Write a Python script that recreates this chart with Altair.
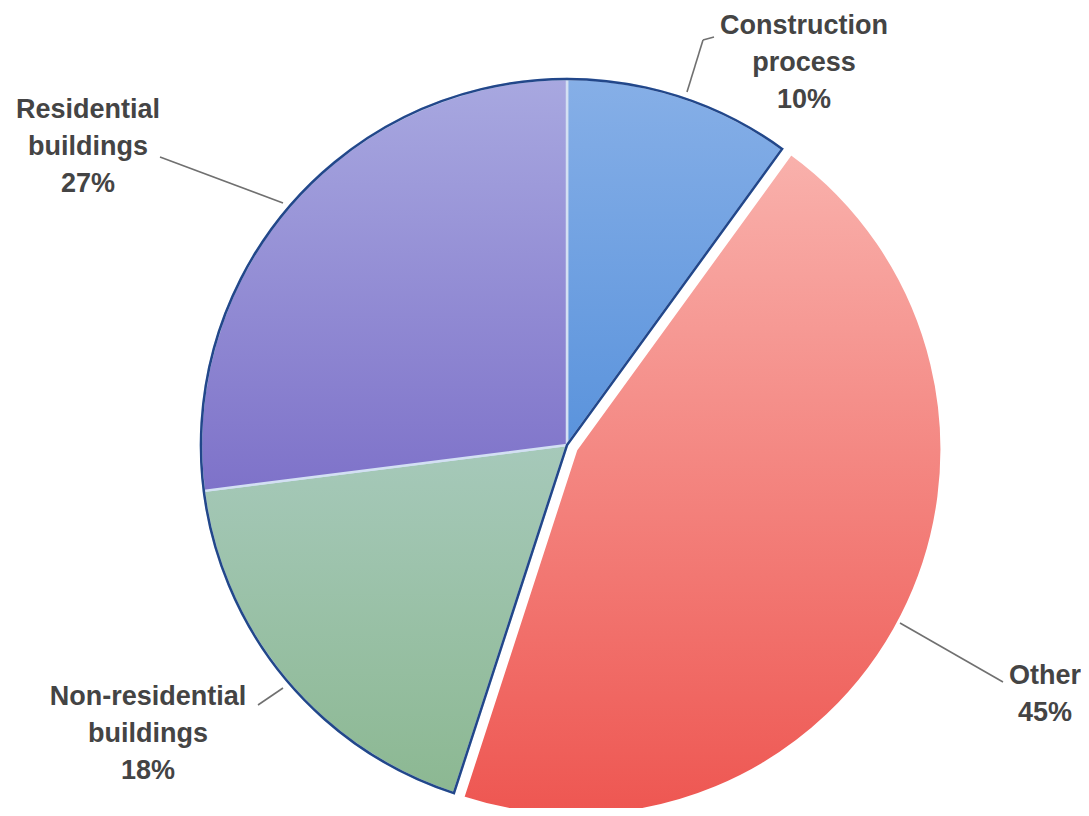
import math
import altair as alt
import pandas as pd

# ---- data ----
categories = ["Construction process", "Other", "Non-residential buildings", "Residential buildings"]
shares = [10, 45, 18, 27]
label_texts = ["Construction\nprocess\n10%", "Other\n45%", "Non-residential\nbuildings\n18%", "Residential\nbuildings\n27%"]

# ---- styles / layout ----
W, H = 1073, 800
CX, CY = 559, 437
R = 366
EXPLODE = 10
top_colors = ["#86afe7", "#f9b1ac", "#a6c9ba", "#a8a8e0"]
bottom_colors = ["#5a93dc", "#ee5651", "#8cb892", "#7e72c9"]
slice_strokes = ["#d3e0f3", "#ffffff", "#d3e0f3", "#d3e0f3"]
slice_stroke_w = [2.5, 3, 2.5, 2.5]
OUTLINE = "#22478a"
TEXT_COLOR = "#444444"

label_pos = {  # position of each label's first line (px)
    "Construction process": (796, 18),
    "Other": (1037, 668),
    "Non-residential buildings": (140, 689),
    "Residential buildings": (80, 102),
}
leaders = [  # polyline segments (px)
    (679, 84, 695, 32), (695, 32, 706, 29),
    (152, 149, 275, 195),
    (250, 697, 275, 680),
    (892, 615, 995, 674),
]

df = pd.DataFrame({"category": categories, "share": shares, "order": list(range(len(categories))),
                   "label": label_texts})

theta_scale = alt.Scale(domain=[0, sum(shares)], range=[0, 2 * math.pi])

base = alt.Chart(df).transform_stack(
    stack="share", as_=["start", "end"], groupby=[], sort=[alt.SortField("order", order="ascending")]
)

layers = []
total = sum(shares)
cum = 0
starts = []
for i, c in enumerate(categories):
    starts.append(cum)
    cum += shares[i]

for i, c in enumerate(categories):
    grad = alt.Gradient(
        gradient="linear",
        stops=[alt.GradientStop(color=top_colors[i], offset=0),
               alt.GradientStop(color=bottom_colors[i], offset=1)],
        x1=0, y1=0, x2=0, y2=1,
    )
    cx, cy = CX, CY
    if c == "Other":
        mid = (starts[i] + shares[i] / 2) / total * 2 * math.pi
        cx = CX + EXPLODE * math.sin(mid)
        cy = CY - EXPLODE * math.cos(mid)
    layers.append(
        base.transform_filter(alt.datum.category == c).mark_arc(
            fill=grad, stroke=slice_strokes[i], strokeWidth=slice_stroke_w[i], radius=R
        ).encode(
            theta=alt.Theta("start:Q", scale=theta_scale),
            theta2="end:Q",
            x=alt.value(cx), y=alt.value(cy),
        )
    )

# navy outline around the non-exploded part of the pie
i_nr = categories.index("Non-residential buildings")
i_cp = categories.index("Construction process")
t0 = starts[i_nr] / total * 2 * math.pi
t1 = 2 * math.pi + (starts[i_cp] + shares[i_cp]) / total * 2 * math.pi
outline = alt.Chart(pd.DataFrame({"k": [0]})).mark_arc(
    fill="#ffffff", fillOpacity=0, stroke=OUTLINE, strokeWidth=2.5, radius=R,
    theta=t0, theta2=t1,
).encode(x=alt.value(CX), y=alt.value(CY))
layers.append(outline)

# leader lines
lead_df = pd.DataFrame(leaders, columns=["x", "y", "x2", "y2"])
lead = alt.Chart(lead_df).mark_rule(color="#707070", strokeWidth=1.6).encode(
    x=alt.X("x:Q", scale=None), y=alt.Y("y:Q", scale=None),
    x2="x2:Q", y2="y2:Q",
)
layers.append(lead)

# labels
lab_df = df.copy()
lab_df["lx"] = [label_pos[c][0] for c in categories]
lab_df["ly"] = [label_pos[c][1] for c in categories]
labels = alt.Chart(lab_df).mark_text(
    font="Liberation Sans", fontWeight="bold", fontSize=27, color=TEXT_COLOR,
    align="center", baseline="middle", lineBreak="\n", lineHeight=37,
).encode(
    x=alt.X("lx:Q", scale=None), y=alt.Y("ly:Q", scale=None), text="label:N",
)
layers.append(labels)

chart = alt.layer(*layers).properties(
    width=W, height=H, padding=0, autosize=alt.AutoSizeParams(type="none"), background="#ffffff"
).configure_view(stroke=None)

chart.save("out.html", embed_options={"renderer": "svg", "actions": False})
